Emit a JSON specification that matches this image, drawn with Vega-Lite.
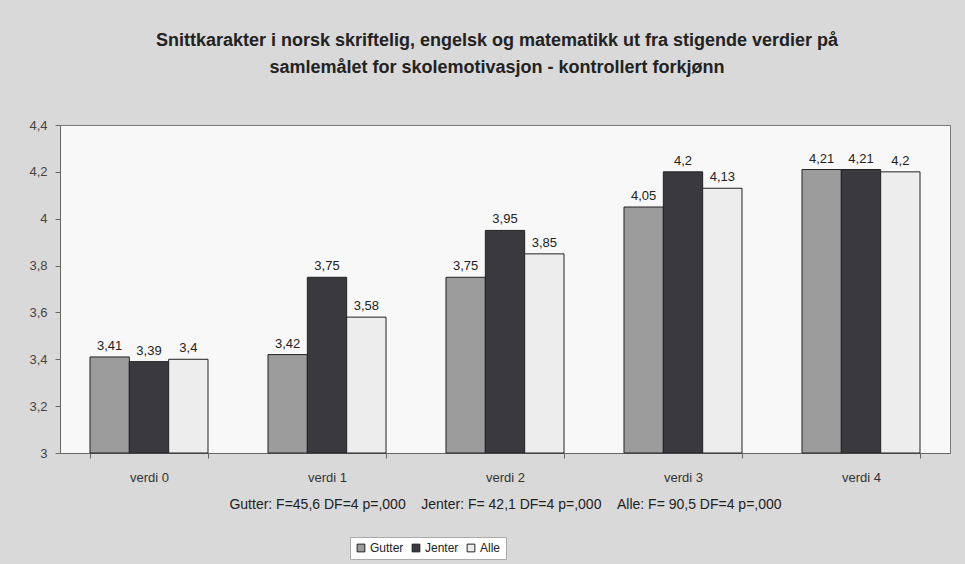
{
  "$schema": "https://vega.github.io/schema/vega-lite/v6.json",
  "width": 890,
  "height": 328,
  "autosize": {"type": "none"},
  "padding": {"left": 60, "top": 125, "right": 15, "bottom": 111},
  "background": "#d9d9d9",
  "title": {
    "text": ["Snittkarakter i norsk skriftelig, engelsk og matematikk ut fra stigende verdier på", "samlemålet for skolemotivasjon - kontrollert forkjønn"],
    "font": "Liberation Sans",
    "fontSize": 18,
    "fontWeight": "bold",
    "color": "#222222",
    "anchor": "middle",
    "dx": -8,
    "offset": 42,
    "lineHeight": 27
  },
  "data": {
    "values": [
      {"verdi": "verdi 0", "gruppe": "Gutter", "snitt": 3.41},
      {"verdi": "verdi 0", "gruppe": "Jenter", "snitt": 3.39},
      {"verdi": "verdi 0", "gruppe": "Alle", "snitt": 3.4},
      {"verdi": "verdi 1", "gruppe": "Gutter", "snitt": 3.42},
      {"verdi": "verdi 1", "gruppe": "Jenter", "snitt": 3.75},
      {"verdi": "verdi 1", "gruppe": "Alle", "snitt": 3.58},
      {"verdi": "verdi 2", "gruppe": "Gutter", "snitt": 3.75},
      {"verdi": "verdi 2", "gruppe": "Jenter", "snitt": 3.95},
      {"verdi": "verdi 2", "gruppe": "Alle", "snitt": 3.85},
      {"verdi": "verdi 3", "gruppe": "Gutter", "snitt": 4.05},
      {"verdi": "verdi 3", "gruppe": "Jenter", "snitt": 4.2},
      {"verdi": "verdi 3", "gruppe": "Alle", "snitt": 4.13},
      {"verdi": "verdi 4", "gruppe": "Gutter", "snitt": 4.21},
      {"verdi": "verdi 4", "gruppe": "Jenter", "snitt": 4.21},
      {"verdi": "verdi 4", "gruppe": "Alle", "snitt": 4.2}
    ]
  },
  "encoding": {
    "x": {
      "field": "verdi",
      "type": "nominal",
      "sort": null,
      "scale": {"paddingInner": 0.337, "paddingOuter": 0.1685},
      "axis": {
        "labelAngle": 0,
        "title": "Gutter: F=45,6 DF=4 p=,000\u00a0\u00a0\u00a0\u00a0Jenter: F= 42,1 DF=4 p=,000\u00a0\u00a0\u00a0\u00a0Alle: F= 90,5 DF=4 p=,000",
        "titleFont": "Liberation Sans",
        "titleFontSize": 14,
        "titleFontWeight": "normal",
        "titleColor": "#222222",
        "titlePadding": 13,
        "labelFont": "Liberation Sans",
        "labelFontSize": 13,
        "labelColor": "#333333",
        "labelPadding": 13,
        "tickSize": 5,
        "tickColor": "#666666",
        "domainColor": "#666666",
        "tickBand": "extent"
      }
    },
    "xOffset": {
      "field": "gruppe",
      "type": "nominal",
      "sort": ["Gutter", "Jenter", "Alle"],
      "scale": {"paddingInner": 0, "paddingOuter": 0}
    },
    "y": {
      "field": "snitt",
      "type": "quantitative",
      "scale": {"domain": [3, 4.4], "zero": false, "nice": false},
      "axis": {
        "values": [3, 3.2, 3.4, 3.6, 3.8, 4, 4.2, 4.4],
        "format": "~g",
        "title": null,
        "grid": false,
        "labelFont": "Liberation Sans",
        "labelFontSize": 13,
        "labelColor": "#444444",
        "labelPadding": 8,
        "tickSize": 5,
        "tickColor": "#666666",
        "domainColor": "#666666"
      }
    }
  },
  "layer": [
    {
      "mark": {"type": "bar", "stroke": "#222222", "strokeWidth": 1},
      "encoding": {
        "y2": {"datum": 3},
        "color": {
          "field": "gruppe",
          "type": "nominal",
          "sort": ["Gutter", "Jenter", "Alle"],
          "scale": {"domain": ["Gutter", "Jenter", "Alle"], "range": ["#9c9c9c", "#3a3a3e", "#ededed"]},
          "legend": {
            "title": null,
            "orient": "none",
            "direction": "horizontal",
            "legendX": 290,
            "legendY": 412,
            "symbolType": "square",
            "symbolSize": 60,
            "symbolStrokeColor": "#222222",
            "symbolStrokeWidth": 1,
            "labelFont": "Liberation Sans",
            "labelFontSize": 12,
            "labelColor": "#222222",
            "columnPadding": 6,
            "symbolOffset": 0,
            "labelOffset": 3,
            "fillColor": "#ffffff",
            "strokeColor": "#aaaaaa",
            "padding": 5
          }
        }
      }
    },
    {
      "mark": {"type": "text", "dy": -11, "font": "Liberation Sans", "fontSize": 13, "color": "#222222"},
      "encoding": {
        "text": {"field": "snitt", "type": "quantitative", "format": ".3~r"}
      }
    }
  ],
  "config": {
    "locale": {"number": {"decimal": ",", "thousands": " ", "grouping": [3], "currency": ["", " kr"]}},
    "view": {"fill": "#f8f8f8", "stroke": "#777777"}
  }
}
